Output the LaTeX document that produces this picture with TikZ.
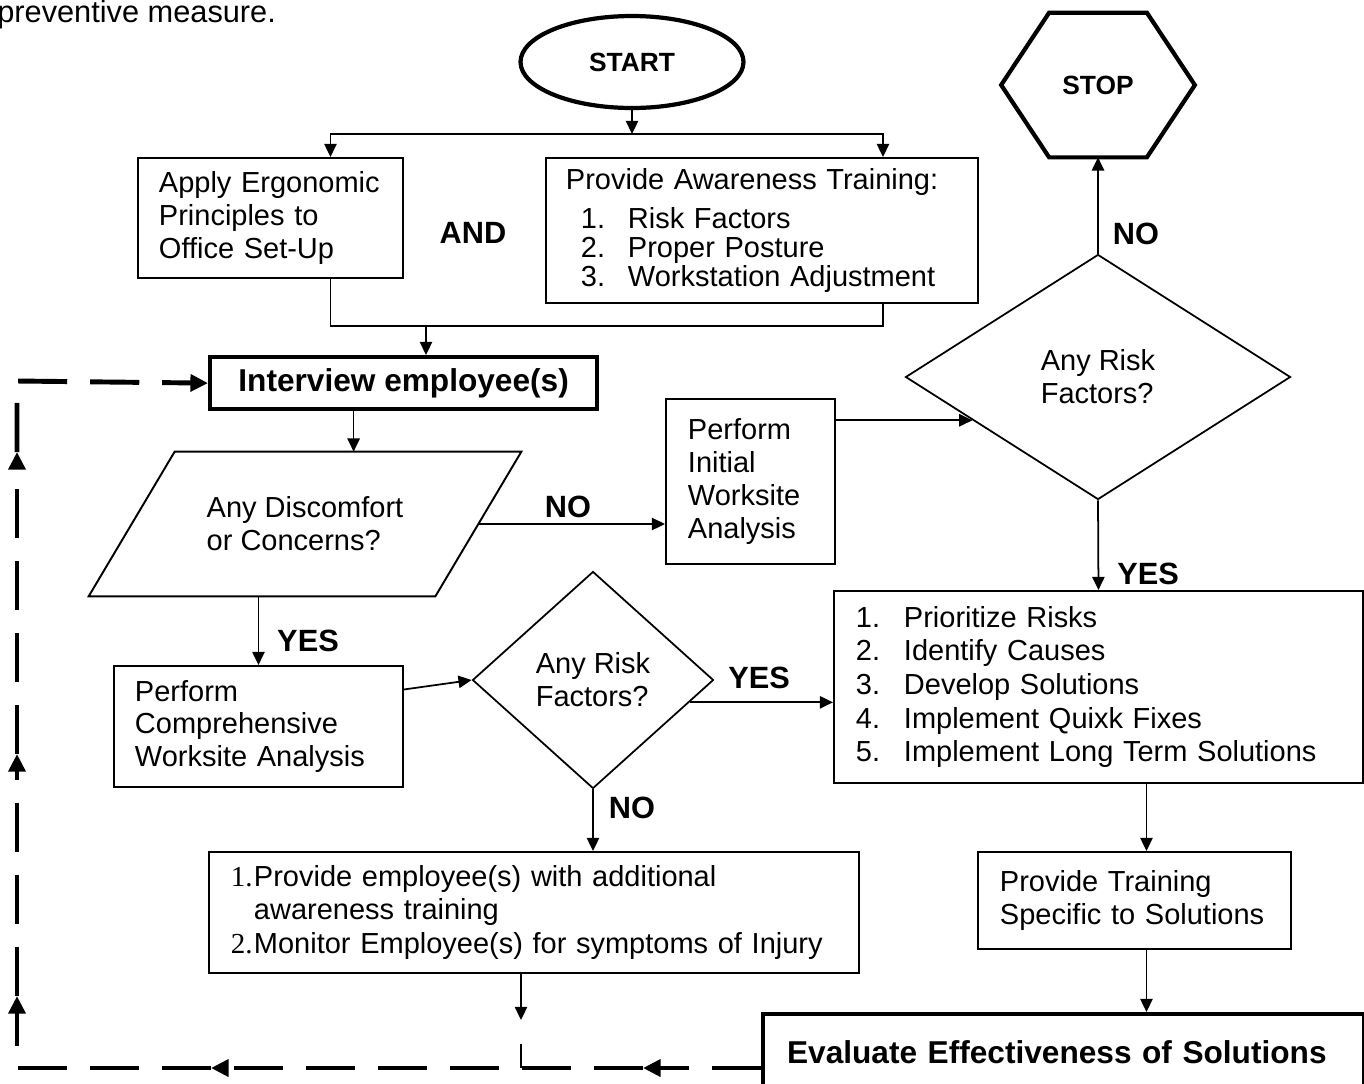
\documentclass[tikz,border=0pt]{standalone}
\usepackage{fontspec}
\setmainfont{Liberation Sans}
\newfontfamily\serifnum{Liberation Serif}
\usetikzlibrary{shapes.geometric,arrows.meta,calc}
\newlength{\pxl}\setlength{\pxl}{0.02cm}

\begin{document}
\begin{tikzpicture}[x=0.02cm,y=-0.02cm,
    every node/.style={font=\fontsize{16.5}{18.7}\selectfont},
    procbox/.style={draw,line width=1.1pt,anchor=north west,inner sep=0pt,align=left},
    boldbox/.style={draw,line width=2.4pt,anchor=north west,inner sep=0pt,font=\fontsize{18}{21}\selectfont\bfseries},
    decision/.style={diamond,draw,line width=1pt,inner sep=0pt,align=left},
    tag/.style={font=\fontsize{17.5}{20}\selectfont\bfseries},
    link/.style={line width=1pt},
    flow/.style={line width=1pt,-{Triangle[length=7.5pt,width=7pt]}},
    backloop/.style={line width=2.8pt,dash pattern=on 28pt off 13pt,-{Triangle[length=10pt,width=9.5pt]}}]
  \useasboundingbox (0,0) rectangle (1364,1083);
  \node[anchor=base west,inner sep=0pt,font=\fontsize{17.5}{20}\selectfont] (caption) at (-3,22) {preventive measure.};
  % start / stop
  \node[ellipse,draw,line width=2.4pt,minimum width=223\pxl,minimum height=92\pxl,font=\fontsize{15}{18}\selectfont\bfseries] (start) at (632,62) {START};
  \node[inner sep=0pt,minimum width=193\pxl,minimum height=144\pxl,font=\fontsize{15}{18}\selectfont\bfseries] (stop) at (1098,85) {STOP};
  \draw[line width=2.4pt] (stop.west) -- ([xshift=48\pxl]stop.north west) -- ([xshift=-48\pxl]stop.north east)
      -- (stop.east) -- ([xshift=-48\pxl]stop.south east) -- ([xshift=48\pxl]stop.south west) -- cycle;
  % top row
  \node[procbox,minimum width=265\pxl,minimum height=120\pxl,text width=223\pxl] (ergo) at (137,157) {Apply Ergonomic\\Principles to\\Office Set-Up};
  \node[tag] (andlbl) at (473,233) {AND};
  \node[procbox,minimum width=432\pxl,minimum height=145\pxl,text width=392\pxl,font=\fontsize{16.5}{16.5}\selectfont] (aware) at (545,157)
      {Provide Awareness Training:\\[6pt]
       \hspace*{15\pxl}\makebox[47\pxl][l]{1.}Risk Factors\\
       \hspace*{15\pxl}\makebox[47\pxl][l]{2.}Proper Posture\\
       \hspace*{15\pxl}\makebox[47\pxl][l]{3.}Workstation Adjustment};
  \node[boldbox,minimum width=387\pxl,minimum height=52\pxl] (interview) at (208,355) {Interview employee(s)};
  % left branch
  \node[inner sep=0pt,minimum width=432\pxl,minimum height=144\pxl,align=left] (disc) at (305,524) {Any Discomfort\\or Concerns?};
  \draw[line width=1.1pt] ([xshift=86\pxl]disc.north west) -- (disc.north east) -- ([xshift=-86\pxl]disc.south east) -- (disc.south west) -- cycle;
  \node[procbox,minimum width=289\pxl,minimum height=121\pxl,text width=247\pxl] (comp) at (113,665) {Perform\\Comprehensive\\Worksite Analysis};
  \node[decision,minimum width=241\pxl,minimum height=217\pxl] (risk2) at (593,680) {Any Risk\\Factors?};
  \node[procbox,minimum width=650\pxl,minimum height=121\pxl,text width=606\pxl,font=\fontsize{16.5}{19}\selectfont] (monitor) at (208,851)
      {\makebox[23\pxl][l]{\serifnum 1.}Provide employee(s) with additional\\
       \hspace*{23\pxl}awareness training\\
       \makebox[23\pxl][l]{\serifnum 2.}Monitor Employee(s) for symptoms of Injury};
  % right branch
  \node[procbox,minimum width=169\pxl,minimum height=165\pxl,text width=125\pxl] (init) at (665,398) {Perform\\Initial\\Worksite\\Analysis};
  \node[decision,minimum width=385\pxl,minimum height=245\pxl] (risk) at (1098,377) {Any Risk\\Factors?};
  \node[procbox,minimum width=529\pxl,minimum height=192\pxl,text width=485\pxl,font=\fontsize{16.5}{19.1}\selectfont] (solutions) at (833,590)
      {\makebox[48\pxl][l]{1.}Prioritize Risks\\
       \makebox[48\pxl][l]{2.}Identify Causes\\
       \makebox[48\pxl][l]{3.}Develop Solutions\\
       \makebox[48\pxl][l]{4.}Implement Quixk Fixes\\
       \makebox[48\pxl][l]{5.}Implement Long Term Solutions};
  \node[procbox,minimum width=313\pxl,minimum height=97\pxl,text width=269\pxl] (training) at (977,851) {Provide Training\\Specific to Solutions};
  \node[boldbox,minimum width=601\pxl,minimum height=76\pxl,text width=553\pxl,align=left] (evaluate) at (761,1012) {Evaluate Effectiveness of Solutions};
  % labels
  \node[tag] (no1) at (568,507) {NO};
  \node[tag] (yes1) at (308,641) {YES};
  \node[tag] (yes2) at (759,678) {YES};
  \node[tag] (no2) at (632,808) {NO};
  \node[tag] (no3) at (1136,234) {NO};
  \node[tag] (yes3) at (1148,574) {YES};
  % connectors
  \coordinate (split) at (632,134);
  \coordinate (merge) at (426,326);
  \draw[flow] (start.south) -- (split);
  \draw[flow] (split) -| ([xshift=60\pxl]ergo.north);
  \draw[flow] (split) -| ([xshift=121\pxl]aware.north);
  \draw[link] ([xshift=60\pxl]ergo.south) |- (merge) -| ([xshift=121\pxl]aware.south);
  \draw[flow] (merge) -- (merge |- interview.north);
  \draw[flow] ([xshift=-50\pxl]interview.south) -- ([xshift=-50\pxl]interview.south |- disc.north);
  \draw[flow] ([xshift=-43\pxl]disc.east) -- (disc.east -| init.west);
  \draw[flow] (comp.north |- disc.south) -- (comp.north);
  \draw[flow] ([yshift=37\pxl]comp.east) -- (risk2.west);
  \draw[flow] (risk2.-13) -- (risk2.-13 -| solutions.west);
  \draw[flow] (risk2.south) -- (risk2.south |- monitor.north);
  \draw[flow] (init.east |- risk.199.5) -- (risk.199.5);
  \draw[flow] (risk.north) -- (stop.south);
  \draw[flow] (risk.south) -- (solutions.north);
  \draw[flow] ([xshift=48\pxl]solutions.south) -- ([xshift=48\pxl]solutions.south |- training.north);
  \draw[flow] ([xshift=12\pxl]training.south) -- ([xshift=12\pxl]training.south |- evaluate.north);
  \coordinate (drop) at (521,1020);
  \coordinate (tick) at (521,1044);
  \draw[flow] (monitor.south -| drop) -- (drop);
  % feedback loop
  \coordinate (loopE) at (761,1068);
  \coordinate (b1) at (643,1068);
  \coordinate (b2) at (211,1068);
  \coordinate (loopSW) at (17,1068);
  \coordinate (l1) at (17,996);
  \coordinate (l2) at (17,754);
  \coordinate (l3) at (17,452);
  \coordinate (loopNW) at (17,381);
  \draw[link] (tick) -- (tick |- loopE);
  \draw[backloop] (loopE) -- (b1);
  \draw[backloop] (b1) -- (b2);
  \draw[backloop] (b2) -- (loopSW) -- (l1);
  \draw[backloop] (l1) -- (l2);
  \draw[backloop] (l2) -- (l3);
  \draw[backloop] (l3) -- (loopNW) -- (interview.west);
\end{tikzpicture}
\end{document}
